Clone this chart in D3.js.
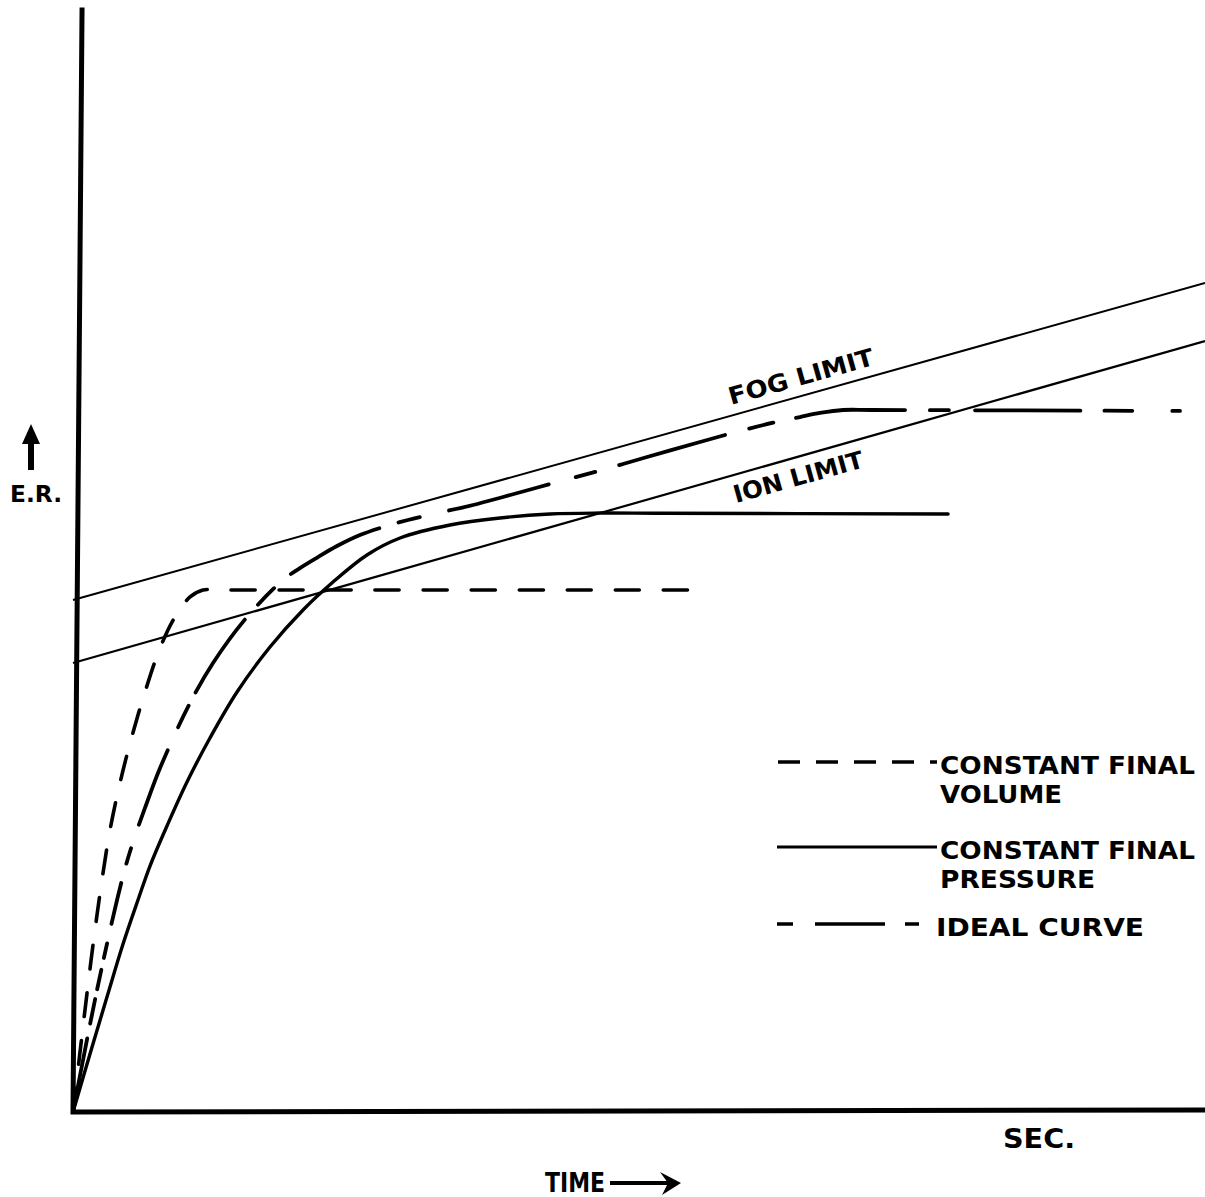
<!DOCTYPE html>
<html><head><meta charset="utf-8">
<script src="https://cdn.jsdelivr.net/npm/d3@7"></script>
<style>body{margin:0;background:#fff}svg{display:block}text{font-family:"DejaVu Sans",sans-serif;font-weight:bold;fill:#000}</style>
</head><body>
<script>
// Data (arbitrary units: time 0-100, E.R. 0-100)
const fogX = [0, 100], fogY = [46.55, 75.36];
const ionX = [0, 100], ionY = [40.82, 70.09];
const volX = [0, 0.62, 1.24, 1.86, 2.56, 3.27, 4.15, 5.12, 6.36, 7.69, 9.01, 10.34, 11.48, 12.99, 54.51];
const volY = [0, 5.45, 10.82, 15.91, 21.09, 25.64, 29.91, 33.82, 38.18, 42.18, 45.0, 46.82, 47.45, 47.45, 47.45];
const presX = [0, 1.50, 3.00, 4.42, 5.74, 6.80, 8.30, 10.07, 12.10, 14.49, 17.40, 20.32, 22.97, 25.97, 28.89, 33.30, 37.72, 42.14, 46.55, 52.0, 77.30];
const presY = [0, 5.27, 10.45, 15.27, 19.27, 22.36, 26.0, 30.0, 34.0, 38.18, 42.27, 45.64, 48.18, 50.64, 52.18, 53.36, 54.0, 54.36, 54.45, 54.43, 54.36];
const idealX = [0, 0.97, 2.03, 3.00, 3.89, 4.68, 5.48, 6.36, 7.69, 10.16, 12.37, 15.37, 18.55, 20.05, 21.64, 23.32, 25.35, 27.39, 29.59, 31.80, 35.34, 37.99, 42.14, 46.73, 50.71, 55.39, 58.92, 61.75, 64.22, 65.99, 68.02, 70.58, 97.79];
const idealY = [0, 5.18, 10.64, 15.27, 19.27, 22.45, 25.09, 27.64, 31.27, 36.82, 40.82, 45.0, 48.36, 49.45, 50.45, 51.45, 52.45, 53.18, 53.82, 54.36, 55.18, 55.91, 57.09, 58.36, 59.55, 60.91, 61.91, 62.64, 63.18, 63.55, 63.82, 63.82, 63.73];
const legendLabels = [["CONSTANT FINAL", "VOLUME"], ["CONSTANT FINAL", "PRESSURE"], ["IDEAL CURVE"]];
const axisLabels = {y: "E.R.", x: "TIME", unit: "SEC."};
const lineLabels = ["FOG LIMIT", "ION LIMIT"];

const W = 1205, H = 1197;
const svg = d3.select("body").append("svg").attr("width", W).attr("height", H);
const x = d3.scaleLinear().domain([0, 100]).range([73, 1205]);
const y = d3.scaleLinear().domain([0, 100]).range([1112, 12]);
const zip = (a, b) => a.map((v, i) => [v, b[i]]);
const line = d3.line().x(d => x(d[0])).y(d => y(d[1]));
const curve = d3.line().x(d => x(d[0])).y(d => y(d[1])).curve(d3.curveCatmullRom.alpha(0.5));

// limit lines
svg.append("path").attr("d", line(zip(fogX, fogY))).attr("stroke", "#000").attr("stroke-width", 2).attr("fill", "none");
svg.append("path").attr("d", line(zip(ionX, ionY))).attr("stroke", "#000").attr("stroke-width", 2.2).attr("fill", "none");

// curves
svg.append("path").attr("d", curve(zip(volX, volY))).attr("stroke", "#000").attr("stroke-width", 3.6)
  .attr("fill", "none").attr("stroke-dasharray", "24 24").attr("stroke-linecap", "round");
svg.append("path").attr("d", curve(zip(presX, presY))).attr("stroke", "#000").attr("stroke-width", 3.4)
  .attr("fill", "none").attr("stroke-linecap", "round");
svg.append("path").attr("d", curve(zip(idealX, idealY))).attr("stroke", "#000").attr("stroke-width", 3.8)
  .attr("fill", "none")
  .attr("stroke-dasharray", "75 15 25 10 20 12 15 20 42 20 16 25 80 25 24 15 88 20 23 22 100 20 22 30 103 28 20 25 110 25 25 23 110 25 19 26 105 24 28 40")
  .attr("stroke-linecap", "round");

// axes
svg.append("path").attr("d", line([[0.8, 100.4], [0, 0], [100, 0.18]])).attr("stroke", "#000")
  .attr("stroke-width", 5).attr("fill", "none").attr("stroke-linejoin", "miter");

// line labels
const ang = -Math.atan((y(fogY[0]) - y(fogY[1])) / (x(fogX[1]) - x(fogX[0]))) * 180 / Math.PI;
svg.append("text").attr("transform", `translate(731,405) rotate(${ang})`).attr("font-size", 24)
  .attr("textLength", 150).attr("lengthAdjust", "spacingAndGlyphs").text(lineLabels[0]);
svg.append("text").attr("transform", `translate(736,503) rotate(${ang})`).attr("font-size", 24)
  .attr("textLength", 134).attr("lengthAdjust", "spacingAndGlyphs").text(lineLabels[1]);

// axis labels
svg.append("text").attr("x", 10).attr("y", 502).attr("font-size", 23).attr("textLength", 52)
  .attr("lengthAdjust", "spacingAndGlyphs").text(axisLabels.y);
svg.append("line").attr("x1", 31).attr("x2", 31).attr("y1", 470).attr("y2", 438).attr("stroke", "#000").attr("stroke-width", 6);
svg.append("path").attr("d", "M22,444 L31,424 L40,444 Z").attr("fill", "#000");
svg.append("text").attr("x", 1003).attr("y", 1148).attr("font-size", 27).attr("textLength", 72)
  .attr("lengthAdjust", "spacingAndGlyphs").text(axisLabels.unit);
svg.append("text").attr("x", 545).attr("y", 1192).attr("font-size", 26).attr("textLength", 60)
  .attr("lengthAdjust", "spacingAndGlyphs").text(axisLabels.x);
svg.append("line").attr("x1", 610).attr("x2", 670).attr("y1", 1183).attr("y2", 1183).attr("stroke", "#000").attr("stroke-width", 4);
svg.append("path").attr("d", "M660,1172 L681,1183 L662,1195 L668,1183 Z").attr("fill", "#000");

// legend
const legY = [762, 847, 924];
const leg = svg.append("g");
leg.append("line").attr("x1", 778).attr("x2", 937).attr("y1", legY[0]).attr("y2", legY[0])
  .attr("stroke", "#000").attr("stroke-width", 3.6).attr("stroke-dasharray", "22 16");
leg.append("line").attr("x1", 777).attr("x2", 937).attr("y1", legY[1]).attr("y2", legY[1])
  .attr("stroke", "#000").attr("stroke-width", 3);
leg.append("line").attr("x1", 777).attr("x2", 920).attr("y1", legY[2]).attr("y2", legY[2])
  .attr("stroke", "#000").attr("stroke-width", 3.6).attr("stroke-dasharray", "16 22 70 20 14 100");
const lens = {"CONSTANT FINAL": 255, "VOLUME": 122, "PRESSURE": 155, "IDEAL CURVE": 208};
legendLabels.forEach((lab, i) => {
  lab.forEach((t, j) => {
    leg.append("text").attr("x", i === 2 ? 936 : 940).attr("y", legY[i] + 12 + j * 29)
      .attr("font-size", 25).attr("lengthAdjust", "spacingAndGlyphs").attr("textLength", lens[t]).text(t);
  });
});
</script>
</body></html>
